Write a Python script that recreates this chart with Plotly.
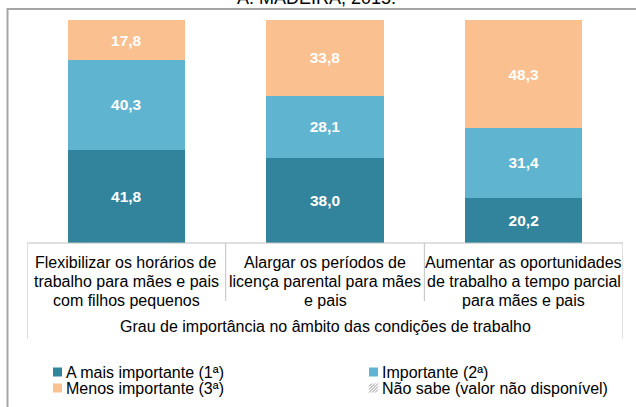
import plotly.graph_objects as go

category_lines = [
    ["Flexibilizar os horários de", "trabalho para mães e pais", "com filhos pequenos"],
    ["Alargar os períodos de", "licença parental para mães", "e pais"],
    ["Aumentar as oportunidades", "de trabalho a tempo parcial", "para mães e pais"],
]
series_names = ["A mais importante (1ª)", "Importante (2ª)", "Menos importante (3ª)",
                "Não sabe (valor não disponível)"]
mais_importante = [41.8, 38.0, 20.2]
importante = [40.3, 28.1, 31.4]
menos_importante = [17.8, 33.8, 48.3]
axis_title = "Grau de importância no âmbito das condições de trabalho"
title_text = "A. MADEIRA, 2015."

colors = ["#31849B", "#5FB4CF", "#FAC090"]
FONT = "Liberation Sans"

W, H = 636, 407
L, R, T, B = 27, 623, 20, 243  # plot area in px


def px(xp):
    return (xp - L) / (R - L)


def py(yp):
    return (B - yp) / (B - T)


fig = go.Figure()
xs = [0, 1, 2]
for name, vals, col in zip(series_names[:3], [mais_importante, importante, menos_importante], colors):
    fig.add_trace(go.Bar(
        x=xs, y=vals, name=name, marker=dict(color=col, line=dict(width=0)),
        width=0.59,
        text=[f"{v:.1f}".replace(".", ",") for v in vals],
        textposition="inside", insidetextanchor="middle",
        textfont=dict(family=FONT, size=15.5, color="white", weight="bold"),
        showlegend=False,
    ))

shapes = []
line_col = "#C0C0C0"
shapes.append(dict(type="line", xref="paper", yref="paper", x0=0, x1=1, y0=0, y1=0,
                   line=dict(color=line_col, width=1)))
for i, xv in enumerate([-0.5, 0.5, 1.5, 2.5]):
    yend = py(339) if i in (0, 3) else py(301)
    shapes.append(dict(type="line", xref="x", yref="paper", x0=xv, x1=xv, y0=0, y1=yend,
                       line=dict(color=line_col, width=1)))
shapes.append(dict(type="rect", xref="paper", yref="paper", x0=px(7.5), x1=px(660), y0=py(9), y1=py(430),
                   line=dict(color="#A6A6A6", width=2), layer="below"))

annotations = []
line_y = [262, 281, 300]
for i, lines in enumerate(category_lines):
    for j, t in enumerate(lines):
        annotations.append(dict(x=i, y=py(line_y[j]), xref="x", yref="paper", text=t, showarrow=False,
                                font=dict(family=FONT, size=16, color="#000"),
                                xanchor="center", yanchor="middle"))
annotations.append(dict(x=0.5, y=py(326), xref="paper", yref="paper", text=axis_title, showarrow=False,
                        font=dict(family=FONT, size=16, color="#000"),
                        xanchor="center", yanchor="middle"))
annotations.append(dict(x=px(316), y=py(-2), xref="paper", yref="paper", text=title_text, showarrow=False,
                        font=dict(family=FONT, size=18, color="#000"),
                        xanchor="center", yanchor="middle"))

leg = [(53, 372, 0), (369, 372, 1), (53, 388, 2), (369, 388, 3)]
for (lx, ly, k) in leg:
    if k < 3:
        shapes.append(dict(type="rect", xref="paper", yref="paper",
                           x0=px(lx), x1=px(lx + 9), y0=py(ly - 4.5), y1=py(ly + 4.5),
                           fillcolor=colors[k], line=dict(width=0)))
    else:
        for d in (3, 6, 9):
            shapes.append(dict(type="line", xref="paper", yref="paper",
                               x0=px(lx), y0=py(ly + 4.5 - (9 - d)),
                               x1=px(lx + d), y1=py(ly + 4.5 - 9),
                               line=dict(color="#909090", width=1)))
        for d in (3, 6):
            shapes.append(dict(type="line", xref="paper", yref="paper",
                               x0=px(lx + d), y0=py(ly + 4.5),
                               x1=px(lx + 9), y1=py(ly + 4.5 - (9 - d)),
                               line=dict(color="#909090", width=1)))
    annotations.append(dict(x=px(lx + 11), y=py(ly), xref="paper", yref="paper", text=series_names[k],
                            showarrow=False, xanchor="left", yanchor="middle",
                            font=dict(family=FONT, size=16, color="#000")))

fig.update_layout(
    width=W, height=H, barmode="stack",
    margin=dict(l=L, r=W - R, t=T, b=H - B, pad=0),
    paper_bgcolor="white", plot_bgcolor="white",
    xaxis=dict(range=[-0.5, 2.5], showticklabels=False, showgrid=False, zeroline=False, fixedrange=True),
    yaxis=dict(range=[0, 100], showticklabels=False, showgrid=False, zeroline=False, fixedrange=True),
    shapes=shapes, annotations=annotations, showlegend=False,
    uniformtext=dict(minsize=8, mode="show"),
)

fig.write_html("out.html", config={"displayModeBar": False},
               post_script="document.body.style.margin='0';")
